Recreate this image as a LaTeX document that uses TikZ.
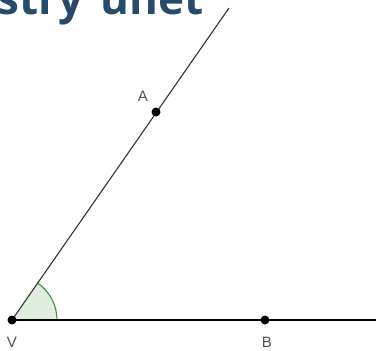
\documentclass[tikz,border=0pt]{standalone}
\usepackage{fontspec}
\setmainfont{Liberation Sans}
\newfontfamily\titlefont{Open Sans}
\definecolor{titleblue}{RGB}{40,74,108}
\definecolor{anglegreen}{RGB}{60,150,60}
\definecolor{anglefill}{RGB}{224,238,224}
\definecolor{labelgray}{RGB}{80,80,80}
\tikzset{
  pt/.style={circle,fill=black,inner sep=0pt,minimum size=9pt},
  lbl/.style={text=labelgray,font=\fontsize{15}{15}\selectfont,inner sep=0pt},
  ray/.style={line width=1.1pt,draw=black!80}
}
\begin{document}
\begin{tikzpicture}[x=1pt,y=-1pt]
\useasboundingbox (0,0) rectangle (376,351);
\clip (0,0) rectangle (376,351);
\node[anchor=base west,inner sep=0pt,text=titleblue,font=\titlefont\bfseries\fontsize{44}{44}\selectfont] (title) at (-3,14) {stry\hspace{6pt} unet};
\coordinate (V) at (12,320);
\coordinate (A) at (156,112);
\coordinate (B) at (265,320);
\coordinate (T) at (229,8);
\coordinate (E) at (380,320);
\fill[anglefill] (V) -- (57,320) arc[start angle=0,end angle=-55.3,radius=45] -- cycle;
\draw[anglegreen,line width=1.1pt] (57,320) arc[start angle=0,end angle=-55.3,radius=45];
\draw[ray] (V) -- (T);
\draw[line width=1.3pt,black] (V) -- (E);
\node[pt] (v) at (V) {};
\node[pt] (a) at (A) {};
\node[pt] (b) at (B) {};
\node[lbl] (la) at (143,96) {A};
\node[lbl] (lv) at (12,342) {V};
\node[lbl] (lb) at (267,342) {B};
\end{tikzpicture}
\end{document}
